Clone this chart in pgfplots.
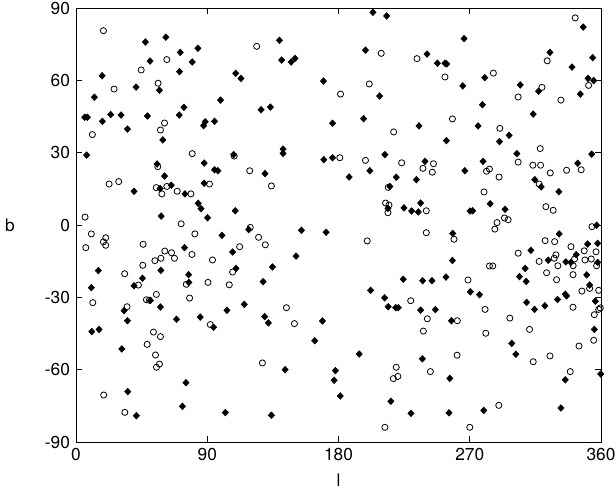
\documentclass[border=0pt]{standalone}
\usepackage{fontspec}
\setmainfont{TeX Gyre Heros}
\usepackage{pgfplots}
\usepackage{pgfplotstable}
\pgfplotsset{compat=1.18}
\pgfplotstableread{
l b
18.8 80.6
62.3 68.6
44.7 64.3
56.3 58.8
26.1 56.4
11.2 37.5
57.9 39.4
60.7 42.3
79.7 29.6
123.9 74.1
181.4 54.3
209.3 71.2
233.8 69.0
253.0 61.4
201.1 58.5
217.8 38.6
258.1 44.0
342.3 85.9
323.1 68.1
286.2 63.0
351.5 57.9
319.5 57.1
303.2 53.1
332.5 51.8
290.6 40.1
318.3 31.7
56.1 24.2
22.7 17.0
29.3 18.0
91.5 17.0
55.0 15.5
58.9 12.9
62.3 16.0
69.4 14.0
78.8 12.9
6.2 3.3
72.1 0.5
10.5 -3.7
6.7 -9.4
20.4 -5.3
18.8 -7.0
20.4 -8.4
46.0 -8.0
81.5 -3.7
60.9 -10.8
65.5 -11.5
67.5 -13.8
58.2 -13.8
54.1 -14.8
79.5 -12.2
45.8 -16.7
33.4 -20.2
42.8 -24.9
75.6 -24.6
90.5 -23.8
55.1 -28.8
48.3 -31.0
50.3 -31.2
77.9 -30.3
108.5 28.6
119.1 22.5
134.0 16.2
180.9 27.9
119.5 -1.0
125.2 -5.1
129.8 -8.2
112.2 -9.0
93.6 -14.5
107.4 -19.5
105.1 -24.8
198.5 26.8
223.3 25.8
245.1 25.4
237.9 23.5
244.3 21.9
214.1 15.6
212.3 9.1
214.6 8.3
213.9 5.1
240.2 5.9
240.2 -3.2
259.2 -5.9
199.7 -6.6
268.8 -22.8
229.5 -31.4
281.5 22.3
283.5 23.2
290.1 19.9
303.2 26.1
313.3 24.8
318.6 24.8
325.2 21.6
336.4 22.7
346.4 22.9
317.6 17.0
279.8 13.7
322.2 7.6
327.2 6.1
293.8 2.9
296.3 2.2
288.7 1.0
287.2 -1.7
353.8 -0.7
321.7 -6.5
328.2 -6.9
339.4 -9.0
303.2 -11.7
348.5 -10.7
356.6 -11.1
329.1 -12.4
327.9 -13.8
317.6 -15.1
341.9 -14.1
349.0 -14.5
353.3 -14.1
357.0 -16.9
330.4 -16.9
340.9 -16.9
283.5 -17.0
285.8 -17.0
322.7 -19.8
340.8 -20.6
329.5 -22.7
352.2 -26.3
346.9 -27.4
358.4 -27.1
11.5 -32.2
35.0 -33.9
92.1 -41.3
53.1 -44.4
57.9 -46.3
48.8 -49.5
54.5 -53.9
57.2 -57.7
55.2 -59.0
19.0 -70.5
33.5 -77.7
144.3 -34.3
149.8 -40.9
127.8 -57.2
240.9 -38.9
238.2 -44.0
261.5 -39.7
261.3 -54.0
219.6 -59.0
217.6 -63.7
220.7 -62.8
243.0 -60.8
211.8 -83.9
270.0 -83.9
280.5 -35.0
297.5 -38.6
340.8 -34.1
359.5 -34.4
358.4 -35.0
355.4 -37.2
355.0 -47.8
281.0 -44.9
311.0 -43.3
344.9 -50.2
313.5 -56.7
325.0 -54.3
338.9 -60.8
289.9 -74.8
}\circles
\pgfplotstableread{
l b
47.6 75.9
61.6 77.9
71.5 71.6
83.6 73.3
50.8 68.0
79.7 67.6
71.0 63.6
17.9 61.9
57.2 55.9
41.2 57.2
12.6 53.0
6.0 44.7
7.8 44.7
18.1 43.0
23.8 45.8
30.9 45.6
35.3 39.8
49.0 45.2
59.5 35.3
70.8 45.6
74.0 48.8
87.5 41.2
88.6 42.8
7.3 29.0
139.5 76.6
141.0 68.4
147.5 67.6
150.2 69.1
109.5 62.9
113.1 60.8
169.7 59.7
99.1 51.8
126.9 47.8
133.3 48.9
95.0 43.0
175.9 42.2
142.0 31.5
142.0 29.7
108.1 29.2
203.6 88.2
213.0 86.7
266.1 77.3
198.5 72.5
240.7 70.9
247.8 67.1
253.0 67.1
254.2 66.8
265.2 57.7
208.2 53.5
197.2 44.1
235.2 41.1
254.0 35.0
211.8 29.2
347.8 82.1
325.0 71.6
354.3 69.4
340.1 65.5
280.3 61.1
351.1 60.8
355.0 59.9
304.6 58.1
317.2 55.5
345.8 54.3
278.7 49.9
313.5 46.0
275.7 41.1
290.4 34.6
297.0 37.2
302.3 29.6
353.6 29.4
55.6 25.3
87.9 25.7
60.7 20.3
87.9 17.3
39.8 14.0
57.7 15.1
65.3 16.5
74.7 12.9
83.8 9.0
85.7 6.8
90.2 3.0
58.4 3.7
74.4 -9.4
58.2 -18.8
15.3 -18.9
45.6 -22.1
39.8 -25.2
77.2 -20.6
77.4 -23.8
10.5 -26.0
51.0 -31.3
95.0 22.9
97.3 22.5
129.6 21.3
169.9 27.1
175.9 27.9
109.2 5.9
100.1 -4.3
118.4 -1.9
154.6 -2.2
171.5 -3.0
107.4 -11.2
150.9 -12.9
134.7 -17.4
109.7 -18.0
128.3 -23.5
239.3 26.4
266.6 22.5
201.5 22.5
187.3 19.9
219.6 19.8
233.4 18.8
215.2 16.0
213.9 6.9
236.3 9.1
224.9 7.1
230.1 5.8
234.7 5.4
270.2 5.8
258.3 -3.5
258.1 -14.7
224.4 -22.5
237.7 -23.1
244.1 -23.1
253.7 -21.6
202.0 -27.1
211.6 -30.2
270.4 -27.7
279.1 26.4
344.0 25.6
314.6 18.8
319.0 15.8
331.1 13.8
284.0 8.8
272.0 5.9
294.2 6.5
357.0 -0.1
331.3 -3.7
350.8 -7.9
357.7 -7.6
311.9 -10.5
343.0 -12.3
323.8 -14.6
335.9 -15.3
339.4 -15.5
357.7 -15.5
308.0 -18.0
304.1 -21.4
308.7 -23.4
350.2 -20.7
352.2 -24.9
276.7 -28.9
335.5 -28.7
336.4 -29.4
330.2 -30.9
33.0 -35.5
57.9 -34.0
35.3 -39.7
68.9 -39.1
85.2 -38.2
10.8 -44.2
15.8 -43.3
31.4 -51.4
75.4 -65.4
35.5 -69.1
73.0 -75.2
41.4 -79.1
103.5 -35.4
115.4 -32.9
94.3 -42.4
129.4 -38.0
131.9 -40.6
169.0 -39.8
163.7 -48.0
143.4 -60.0
177.9 -60.4
177.0 -64.4
181.2 -70.9
102.4 -77.8
134.0 -78.9
214.1 -33.9
219.2 -34.3
221.0 -34.3
236.3 -35.3
246.4 -35.1
257.4 -39.7
194.2 -53.5
237.5 -55.5
256.3 -63.6
215.9 -73.1
229.7 -78.1
255.8 -77.9
309.0 -32.1
314.4 -35.0
321.5 -33.5
356.1 -31.6
355.4 -43.3
298.8 -49.1
301.6 -53.6
335.5 -64.2
359.8 -61.8
332.5 -75.9
279.6 -76.9
}\diamonds
\begin{document}
\fontsize{13}{15}\selectfont
\begin{tikzpicture}
\useasboundingbox (-57pt,-36pt) rectangle (405pt,331.5pt);
\begin{axis}[
  at={(0,0)}, anchor=south west,
  scale only axis, width=393.75pt, height=325.5pt,
  xmin=0, xmax=360, ymin=-90, ymax=90,
  xtick={0,90,180,270,360},
  ytick={-90,-60,-30,0,30,60,90},
  tick align=inside, major tick length=4.5pt,
  axis line style={line width=0.6pt},
  every tick/.style={line width=0.6pt, black},
  /pgf/number format/assume math mode=true,
  ticklabel style={font=\fontsize{13}{15}\selectfont},
  xlabel={l}, ylabel={b},
  every axis x label/.style={at={(axis description cs:0.5,0)}, yshift=-28.5pt, anchor=center},
  every axis y label/.style={at={(axis description cs:0,0.5)}, xshift=-49.5pt, anchor=center},
]
\addplot[only marks, mark=o, mark size=2.3pt, mark options={line width=0.6pt, black}] table {\circles};
\addplot[only marks, mark=diamond*, mark size=2.5pt, mark options={fill=black, draw=black, xscale=1.25}] table {\diamonds};
\end{axis}
\end{tikzpicture}
\end{document}
